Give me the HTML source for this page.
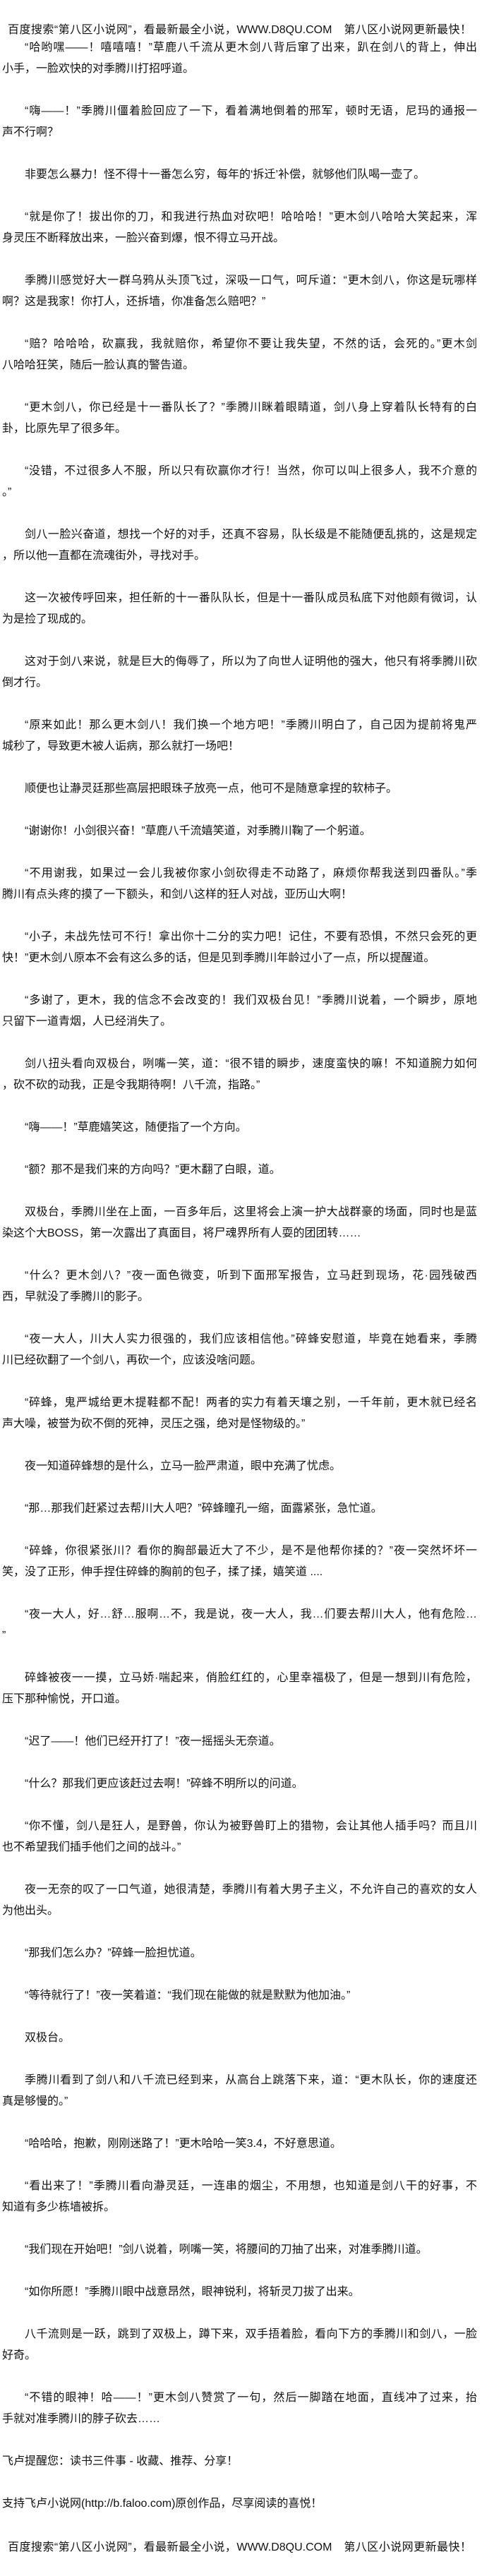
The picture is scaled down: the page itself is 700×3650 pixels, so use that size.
<!DOCTYPE html>
<html><head><meta charset="utf-8">
<style>
html,body{margin:0;padding:0;background:#fff;}
body{width:700px;height:3650px;overflow:hidden;font-family:"Liberation Sans","Noto Sans CJK SC",sans-serif;font-size:16px;color:#111;}
#w{padding-top:33px;}
.h{line-height:20px;height:20px;padding-left:11px;width:657px;white-space:nowrap;text-align:justify;text-align-last:justify;}
.r{height:30px;line-height:30px;padding-left:3px;white-space:nowrap;}
.i{padding-left:35px;}
.f{width:673px;text-align:justify;text-align-last:justify;}
.i.f{width:641px;}
.b{height:30px;}
</style></head><body><div id="w">
<div class="h">百度搜索“第八区小说网”，看最新最全小说，WWW.D8QU.COM　第八区小说网更新最快！</div>
<div class="r i f">“哈哟嘿——！嘻嘻嘻！”草鹿八千流从更木剑八背后窜了出来，趴在剑八的背上，伸出</div>
<div class="r">小手，一脸欢快的对季腾川打招呼道。</div><div class="b"></div>
<div class="r i f">“嗨——！”季腾川僵着脸回应了一下，看着满地倒着的邢军，顿时无语，尼玛的通报一</div>
<div class="r">声不行啊？</div><div class="b"></div>
<div class="r i">非要怎么暴力！怪不得十一番怎么穷，每年的‘拆迁’补偿，就够他们队喝一壶了。</div><div class="b"></div>
<div class="r i f">“就是你了！拔出你的刀，和我进行热血对砍吧！哈哈哈！”更木剑八哈哈大笑起来，浑</div>
<div class="r">身灵压不断释放出来，一脸兴奋到爆，恨不得立马开战。</div><div class="b"></div>
<div class="r i f">季腾川感觉好大一群乌鸦从头顶飞过，深吸一口气，呵斥道：“更木剑八，你这是玩哪样</div>
<div class="r">啊？这是我家！你打人，还拆墙，你准备怎么赔吧？”</div><div class="b"></div>
<div class="r i f">“赔？哈哈哈，砍赢我，我就赔你，希望你不要让我失望，不然的话，会死的。”更木剑</div>
<div class="r">八哈哈狂笑，随后一脸认真的警告道。</div><div class="b"></div>
<div class="r i f">“更木剑八，你已经是十一番队长了？”季腾川眯着眼睛道，剑八身上穿着队长特有的白</div>
<div class="r">卦，比原先早了很多年。</div><div class="b"></div>
<div class="r i f">“没错，不过很多人不服，所以只有砍赢你才行！当然，你可以叫上很多人，我不介意的</div>
<div class="r">。”</div><div class="b"></div>
<div class="r i f">剑八一脸兴奋道，想找一个好的对手，还真不容易，队长级是不能随便乱挑的，这是规定</div>
<div class="r">，所以他一直都在流魂街外，寻找对手。</div><div class="b"></div>
<div class="r i f">这一次被传呼回来，担任新的十一番队队长，但是十一番队成员私底下对他颇有微词，认</div>
<div class="r">为是捡了现成的。</div><div class="b"></div>
<div class="r i f">这对于剑八来说，就是巨大的侮辱了，所以为了向世人证明他的强大，他只有将季腾川砍</div>
<div class="r">倒才行。</div><div class="b"></div>
<div class="r i f">“原来如此！那么更木剑八！我们换一个地方吧！”季腾川明白了，自己因为提前将鬼严</div>
<div class="r">城秒了，导致更木被人诟病，那么就打一场吧！</div><div class="b"></div>
<div class="r i">顺便也让瀞灵廷那些高层把眼珠子放亮一点，他可不是随意拿捏的软柿子。</div><div class="b"></div>
<div class="r i">“谢谢你！小剑很兴奋！”草鹿八千流嬉笑道，对季腾川鞠了一个躬道。</div><div class="b"></div>
<div class="r i f">“不用谢我，如果过一会儿我被你家小剑砍得走不动路了，麻烦你帮我送到四番队。”季</div>
<div class="r">腾川有点头疼的摸了一下额头，和剑八这样的狂人对战，亚历山大啊！</div><div class="b"></div>
<div class="r i f">“小子，未战先怯可不行！拿出你十二分的实力吧！记住，不要有恐惧，不然只会死的更</div>
<div class="r">快！”更木剑八原本不会有这么多的话，但是见到季腾川年龄过小了一点，所以提醒道。</div><div class="b"></div>
<div class="r i f">“多谢了，更木，我的信念不会改变的！我们双极台见！”季腾川说着，一个瞬步，原地</div>
<div class="r">只留下一道青烟，人已经消失了。</div><div class="b"></div>
<div class="r i f">剑八扭头看向双极台，咧嘴一笑，道：“很不错的瞬步，速度蛮快的嘛！不知道腕力如何</div>
<div class="r">，砍不砍的动我，正是令我期待啊！八千流，指路。”</div><div class="b"></div>
<div class="r i">“嗨——！”草鹿嬉笑这，随便指了一个方向。</div><div class="b"></div>
<div class="r i">“额？那不是我们来的方向吗？”更木翻了白眼，道。</div><div class="b"></div>
<div class="r i f">双极台，季腾川坐在上面，一百多年后，这里将会上演一护大战群豪的场面，同时也是蓝</div>
<div class="r">染这个大BOSS，第一次露出了真面目，将尸魂界所有人耍的团团转……</div><div class="b"></div>
<div class="r i f">“什么？更木剑八？”夜一面色微变，听到下面邢军报告，立马赶到现场，花·园残破西</div>
<div class="r">西，早就没了季腾川的影子。</div><div class="b"></div>
<div class="r i f">“夜一大人，川大人实力很强的，我们应该相信他。”碎蜂安慰道，毕竟在她看来，季腾</div>
<div class="r">川已经砍翻了一个剑八，再砍一个，应该没啥问题。</div><div class="b"></div>
<div class="r i f">“碎蜂，鬼严城给更木提鞋都不配！两者的实力有着天壤之别，一千年前，更木就已经名</div>
<div class="r">声大噪，被誉为砍不倒的死神，灵压之强，绝对是怪物级的。”</div><div class="b"></div>
<div class="r i">夜一知道碎蜂想的是什么，立马一脸严肃道，眼中充满了忧虑。</div><div class="b"></div>
<div class="r i">“那…那我们赶紧过去帮川大人吧？”碎蜂瞳孔一缩，面露紧张，急忙道。</div><div class="b"></div>
<div class="r i f">“碎蜂，你很紧张川？看你的胸部最近大了不少，是不是他帮你揉的？”夜一突然坏坏一</div>
<div class="r">笑，没了正形，伸手捏住碎蜂的胸前的包子，揉了揉，嬉笑道 ....</div><div class="b"></div>
<div class="r i f">“夜一大人，好…舒…服啊…不，我是说，夜一大人，我…们要去帮川大人，他有危险…</div>
<div class="r">”</div><div class="b"></div>
<div class="r i f">碎蜂被夜一一摸，立马娇·喘起来，俏脸红红的，心里幸福极了，但是一想到川有危险，</div>
<div class="r">压下那种愉悦，开口道。</div><div class="b"></div>
<div class="r i">“迟了——！他们已经开打了！”夜一摇摇头无奈道。</div><div class="b"></div>
<div class="r i">“什么？那我们更应该赶过去啊！”碎蜂不明所以的问道。</div><div class="b"></div>
<div class="r i f">“你不懂，剑八是狂人，是野兽，你认为被野兽盯上的猎物，会让其他人插手吗？而且川</div>
<div class="r">也不希望我们插手他们之间的战斗。”</div><div class="b"></div>
<div class="r i f">夜一无奈的叹了一口气道，她很清楚，季腾川有着大男子主义，不允许自己的喜欢的女人</div>
<div class="r">为他出头。</div><div class="b"></div>
<div class="r i">“那我们怎么办？”碎蜂一脸担忧道。</div><div class="b"></div>
<div class="r i">“等待就行了！”夜一笑着道：“我们现在能做的就是默默为他加油。”</div><div class="b"></div>
<div class="r i">双极台。</div><div class="b"></div>
<div class="r i f">季腾川看到了剑八和八千流已经到来，从高台上跳落下来，道：“更木队长，你的速度还</div>
<div class="r">真是够慢的。”</div><div class="b"></div>
<div class="r i">“哈哈哈，抱歉，刚刚迷路了！”更木哈哈一笑3.4，不好意思道。</div><div class="b"></div>
<div class="r i f">“看出来了！”季腾川看向瀞灵廷，一连串的烟尘，不用想，也知道是剑八干的好事，不</div>
<div class="r">知道有多少栋墙被拆。</div><div class="b"></div>
<div class="r i">“我们现在开始吧！”剑八说着，咧嘴一笑，将腰间的刀抽了出来，对准季腾川道。</div><div class="b"></div>
<div class="r i">“如你所愿！”季腾川眼中战意昂然，眼神锐利，将斩灵刀拔了出来。</div><div class="b"></div>
<div class="r i f">八千流则是一跃，跳到了双极上，蹲下来，双手捂着脸，看向下方的季腾川和剑八，一脸</div>
<div class="r">好奇。</div><div class="b"></div>
<div class="r i f">“不错的眼神！哈——！”更木剑八赞赏了一句，然后一脚踏在地面，直线冲了过来，抬</div>
<div class="r">手就对准季腾川的脖子砍去……</div><div class="b"></div>
<div class="r">飞卢提醒您：读书三件事 - 收藏、推荐、分享！</div><div class="b"></div>
<div class="r">支持飞卢小说网(http://b.faloo.com)原创作品，尽享阅读的喜悦！</div><div class="b"></div>
<div class="h" style="margin-top:7px">百度搜索“第八区小说网”，看最新最全小说，WWW.D8QU.COM　第八区小说网更新最快！</div>
</div></body></html>
